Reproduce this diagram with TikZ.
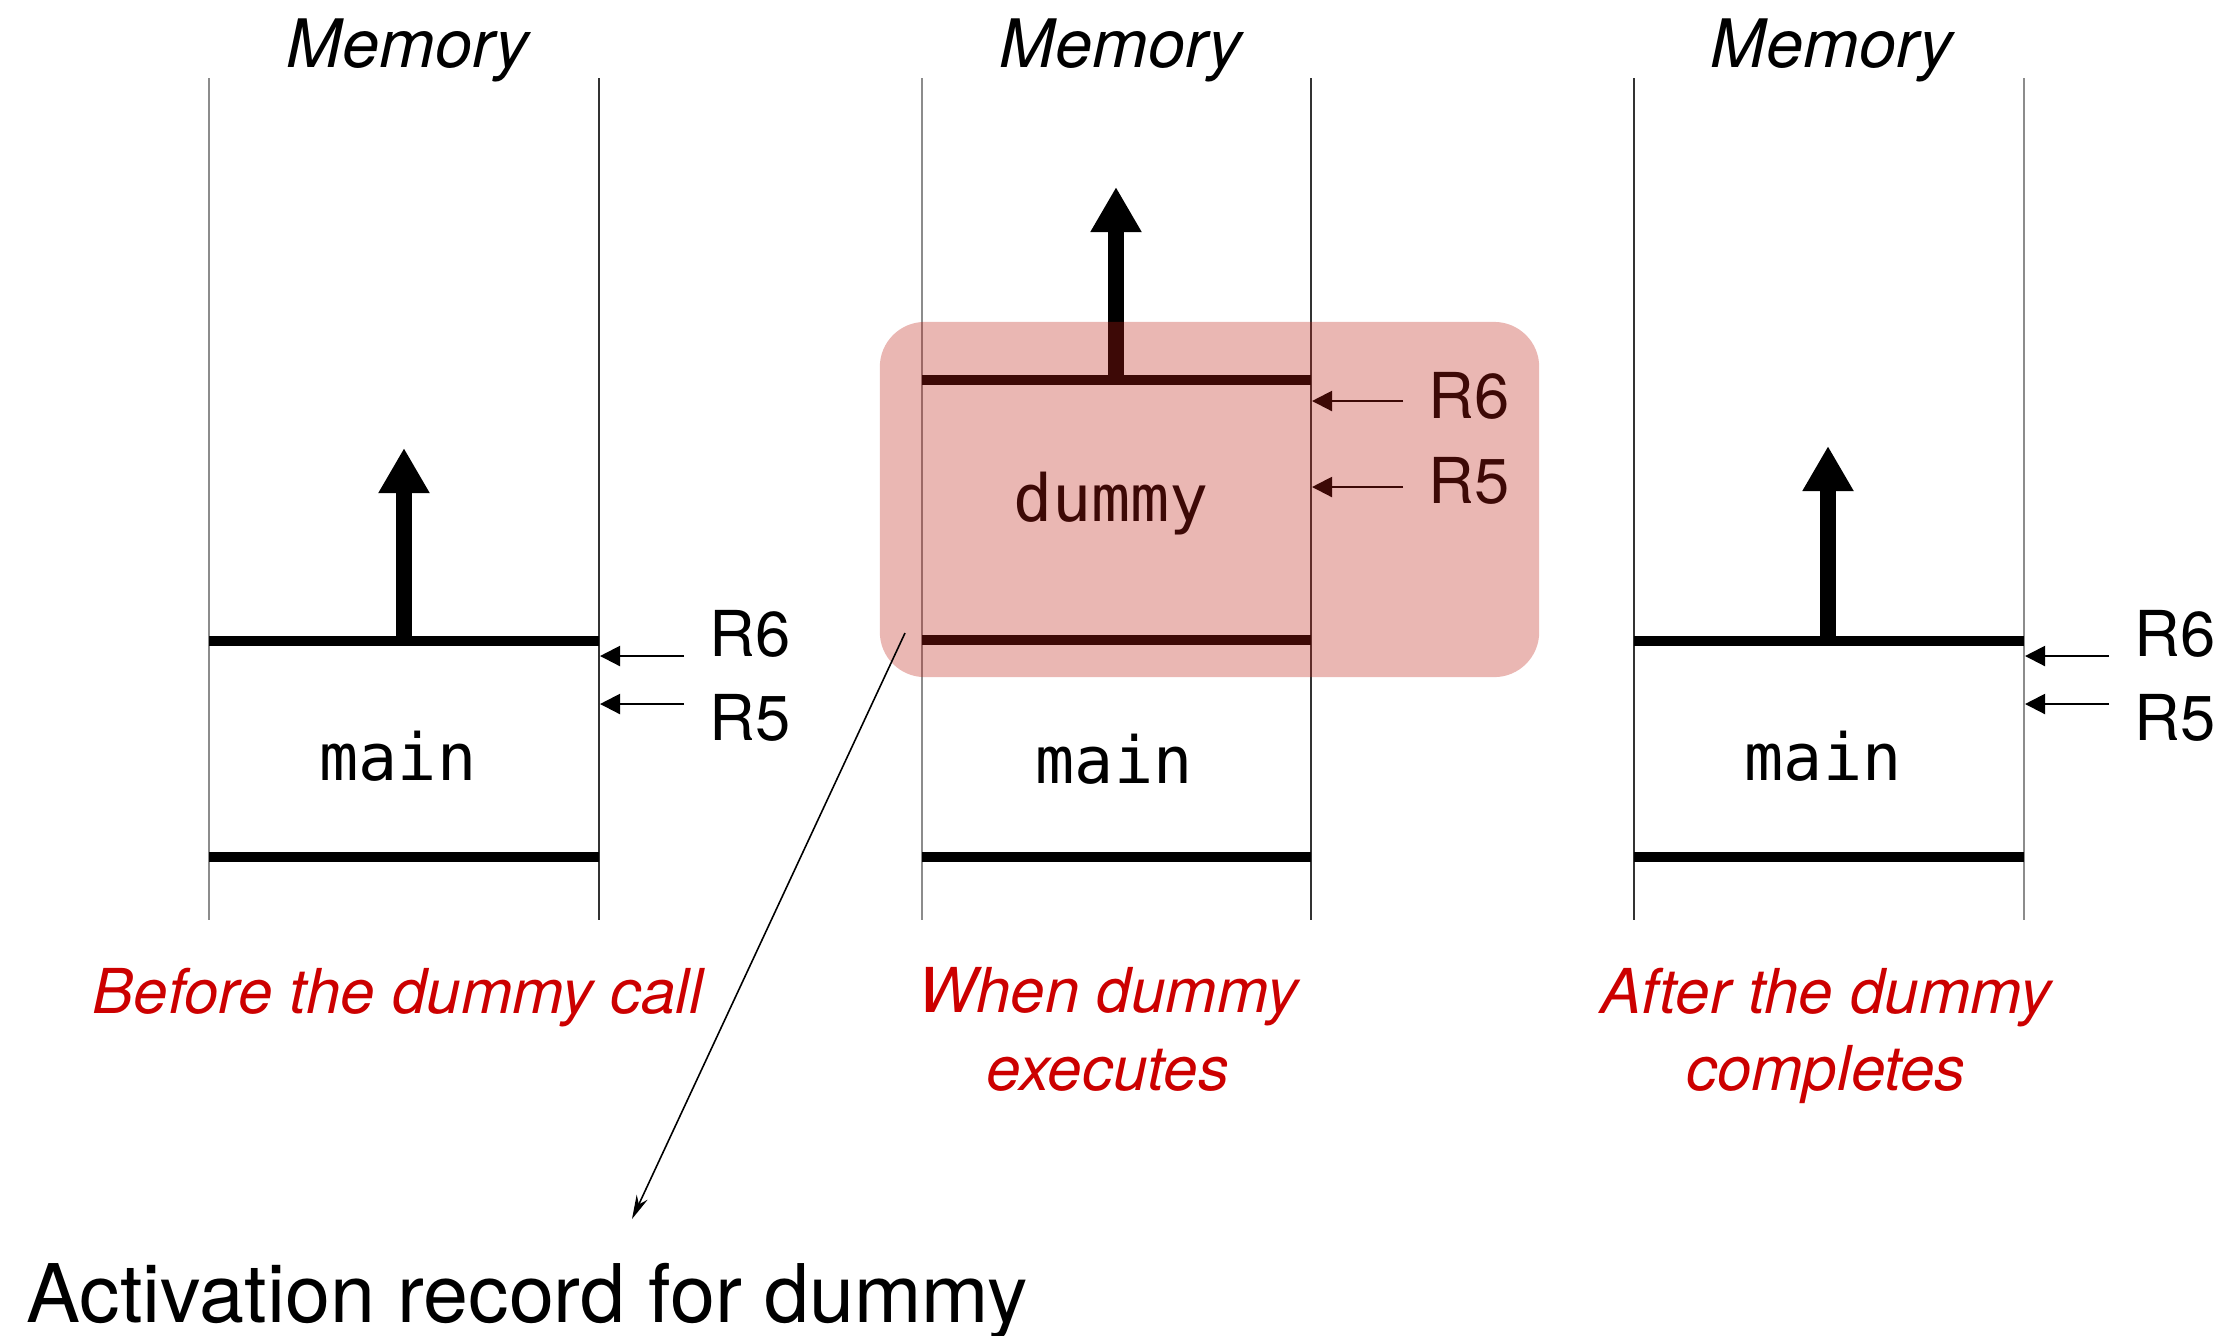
\documentclass[tikz,border=0pt]{standalone}
\usepackage{fontspec}
\setmainfont{TeX Gyre Heros}
\setmonofont{DejaVu Sans Mono}
\usepackage{tikz}
\usetikzlibrary{arrows.meta, positioning}
\definecolor{captionRed}{RGB}{204,0,0}
\definecolor{recordRed}{RGB}{190,30,20}
\tikzset{
  leftwall/.style={line width=0.6pt, black!45},
  rightwall/.style={line width=0.7pt, black!80},
  frameline/.style={line width=2.6pt},
  growth/.style={line width=4.3pt, -{Triangle[length=0.45cm, width=0.48cm]}},
  regptr/.style={line width=0.6pt, -{Triangle[length=0.2cm, width=0.2cm]}},
  regname/.style={font=\fontsize{18}{20}\selectfont, anchor=west, inner xsep=7pt, inner ysep=0pt},
  memtitle/.style={font=\fontsize{19}{22}\selectfont\itshape, anchor=base},
  recname/.style={font=\fontsize{18.5}{20}\selectfont\ttfamily, anchor=base},
  stepcaption/.style={font=\fontsize{17.6}{22}\selectfont\itshape, text=captionRed, align=center, anchor=north, inner sep=0pt},
  recbox/.style={fill=recordRed, fill opacity=0.32, rounded corners=0.45cm, inner sep=0pt, minimum width=6.59cm, minimum height=3.55cm},
}

\begin{document}
\begin{tikzpicture}[x=0.01cm, y=-0.01cm]
\useasboundingbox (0,0) rectangle (2236,1335);

% before the call
\node[memtitle] (mem1) at (408,67) {Memory};
\draw[leftwall] (209,78) coordinate (l1t) -- (209,920) coordinate (l1b);
\draw[rightwall] (599,78) coordinate (r1t) -- (599,920) coordinate (r1b);
\draw[frameline] (209,641) coordinate (top1a) -- (599,641) coordinate (top1b);
\draw[frameline] (209,857) coordinate (bot1a) -- (599,857) coordinate (bot1b);
\coordinate (sp1) at (404,641);
\coordinate (tip1) at (404,448);
\draw[growth] (sp1) -- (tip1);
\node[recname] (main1) at (398,780) {main};
\coordinate (p6a) at (600,656);
\coordinate (p5a) at (600,704);
\node[regname] (r6a) at (684,634) {R6};
\node[regname] (r5a) at (684,718) {R5};
\draw[regptr] (r6a.west |- p6a) -- (p6a);
\draw[regptr] (r5a.west |- p5a) -- (p5a);
\node[stepcaption] (cap1) at (398,967) {Before the dummy call};

% while dummy runs
\node[memtitle] (mem2) at (1121,67) {Memory};
\draw[leftwall] (922,78) coordinate (l2t) -- (922,920) coordinate (l2b);
\draw[rightwall] (1311,78) coordinate (r2t) -- (1311,920) coordinate (r2b);
\draw[frameline] (922,380) coordinate (top2a) -- (1311,380) coordinate (top2b);
\draw[frameline] (922,640) coordinate (mid2a) -- (1311,640) coordinate (mid2b);
\draw[frameline] (922,857) coordinate (bot2a) -- (1311,857) coordinate (bot2b);
\coordinate (sp2) at (1116,380);
\coordinate (tip2) at (1116,187);
\draw[growth] (sp2) -- (tip2);
\node[recname] (dummy2) at (1111,521) {dummy};
\node[recname] (main2) at (1114,783) {main};
\coordinate (p6b) at (1312,401);
\coordinate (p5b) at (1312,487);
\node[regname] (r6b) at (1403,396) {R6};
\node[regname] (r5b) at (1403,481) {R5};
\draw[regptr] (r6b.west |- p6b) -- (p6b);
\draw[regptr] (r5b.west |- p5b) -- (p5b);
\node[stepcaption] (cap2) at (1108,967) {When dummy\\executes};

% after dummy returns
\node[memtitle] (mem3) at (1832,67) {Memory};
\draw[rightwall] (1634,78) coordinate (l3t) -- (1634,920) coordinate (l3b);
\draw[leftwall] (2024,78) coordinate (r3t) -- (2024,920) coordinate (r3b);
\draw[frameline] (1634,641) coordinate (top3a) -- (2024,641) coordinate (top3b);
\draw[frameline] (1634,857) coordinate (bot3a) -- (2024,857) coordinate (bot3b);
\coordinate (sp3) at (1828,641);
\coordinate (tip3) at (1828,446);
\draw[growth] (sp3) -- (tip3);
\node[recname] (main3) at (1823,780) {main};
\coordinate (p6c) at (2025,656);
\coordinate (p5c) at (2025,704);
\node[regname] (r6c) at (2109,634) {R6};
\node[regname] (r5c) at (2109,718) {R5};
\draw[regptr] (r6c.west |- p6c) -- (p6c);
\draw[regptr] (r5c.west |- p5c) -- (p5c);
\node[stepcaption] (cap3) at (1826,967) {After the dummy\\completes};

% activation record of dummy
\node[recbox] (record) at (1209.5,499.5) {};
\coordinate (leadfrom) at (905,633);
\coordinate (leadto) at (632,1219);
\draw[line width=0.45pt, -{Stealth[length=0.24cm, width=0.12cm]}] (leadfrom) -- (leadto);
\node[anchor=base west, inner sep=0pt, font=\fontsize{23}{26}\selectfont] (arlabel) at (26,1322) {Activation record for dummy};
\end{tikzpicture}
\end{document}
